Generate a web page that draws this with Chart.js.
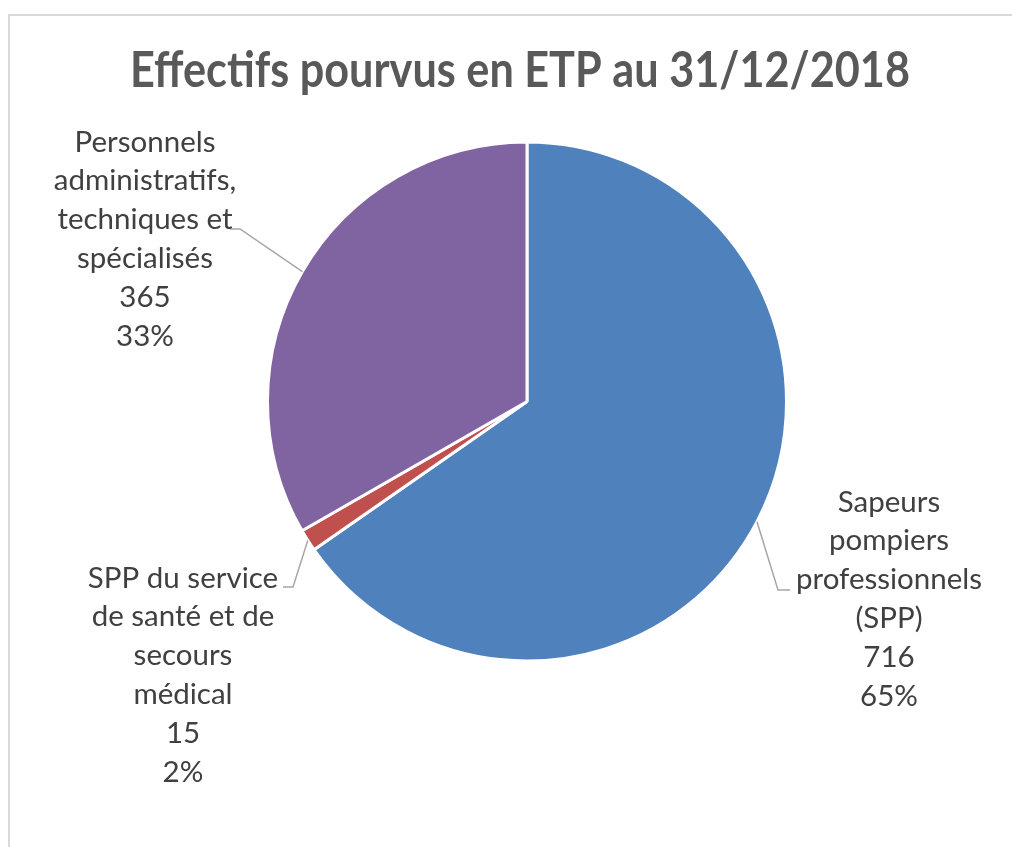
<!DOCTYPE html>
<html>
<head>
<meta charset="utf-8">
<script src="https://cdn.jsdelivr.net/npm/chart.js@4.4.1/dist/chart.umd.min.js"></script>
<style>
    html, body { margin: 0; padding: 0; background: #ffffff; overflow: hidden; }
    #wrap { position: relative; width: 1012px; height: 847px; }
    #frame {
        position: absolute; left: 8px; top: 14px; width: 1100px; height: 900px;
        border: 2px solid #d9d9d9; box-sizing: border-box; pointer-events: none;
    }
    canvas { position: absolute; left: 0; top: 0; }
</style>
</head>
<body>
<div id="wrap">
    <div id="frame"></div>
    <canvas id="pieChart" width="1012" height="847"></canvas>
</div>
<script>
const chartTitle = "Effectifs pourvus en ETP au 31/12/2018";

// Slices, clockwise from 12 o'clock
const categories = [
    "Sapeurs pompiers professionnels (SPP)",
    "SPP du service de santé et de secours médical",
    "Personnels administratifs, techniques et spécialisés"
];
const categoryLines = [
    ["Sapeurs", "pompiers", "professionnels", "(SPP)"],
    ["SPP du service", "de santé et de", "secours", "médical"],
    ["Personnels", "administratifs,", "techniques et", "spécialisés"]
];
const values = [716, 15, 365];
const percents = ["65%", "2%", "33%"];
const sliceColors = ["#4F81BD", "#C0504D", "#8064A2"];

// Where each data label sits and how its leader line bends (layout only)
const labelLayout = [
    { cx: 889, top: 502, elbow: [778, 590], end: [790, 590] },
    { cx: 183, top: 578, elbow: [293, 587], end: [283, 587] },
    { cx: 145, top: 142, elbow: [240, 229], end: [230, 229] }
];

/* -------------------------------
   Title (drawn by hand so it is not squeezed to the pie width)
---------------------------------*/
const bigTitle = {
    id: "bigTitle",
    afterDraw(chart) {
        const ctx = chart.ctx;
        ctx.save();
        ctx.fillStyle = "#595959";
        ctx.font = "bold 50px Lato";
        ctx.textAlign = "center";
        ctx.textBaseline = "alphabetic";
        // narrow the face a little, the original title font is condensed
        const w = ctx.measureText(chartTitle).width;
        const sx = Math.min(1, 780 / w);
        ctx.translate(520, 87);
        ctx.scale(sx, 1);
        ctx.fillText(chartTitle, 0, 0);
        ctx.restore();
    }
};

/* -------------------------------
   Data labels with leader lines
---------------------------------*/
const pieLabels = {
    id: "pieLabels",
    afterDatasetsDraw(chart) {
        const ctx = chart.ctx;
        const meta = chart.getDatasetMeta(0);

        meta.data.forEach((arc, i) => {
            const p = arc.getProps(["x", "y", "startAngle", "endAngle", "outerRadius"], true);
            const mid = (p.startAngle + p.endAngle) / 2;
            const ex = p.x + Math.cos(mid) * p.outerRadius;
            const ey = p.y + Math.sin(mid) * p.outerRadius;
            const lay = labelLayout[i];

            ctx.save();
            ctx.strokeStyle = "#a6a6a6";
            ctx.lineWidth = 1.5;
            ctx.beginPath();
            ctx.moveTo(ex, ey);
            ctx.lineTo(lay.elbow[0], lay.elbow[1]);
            ctx.lineTo(lay.end[0], lay.end[1]);
            ctx.stroke();

            const lines = categoryLines[i].concat([String(values[i]), percents[i]]);
            ctx.fillStyle = "#404040";
            ctx.font = "29.5px Lato";
            ctx.textAlign = "center";
            ctx.textBaseline = "middle";
            lines.forEach((t, k) => ctx.fillText(t, lay.cx, lay.top + k * 38.9));
            ctx.restore();
        });
    }
};

new Chart(document.getElementById("pieChart").getContext("2d"), {
    type: "pie",
    data: {
        labels: categories,
        datasets: [{
            data: values,
            backgroundColor: sliceColors,
            borderColor: "#ffffff",
            borderWidth: 3
        }]
    },
    options: {
        responsive: false,
        animation: false,
        layout: { padding: { left: 266, right: 224, top: 140, bottom: 184 } },
        plugins: {
            legend: { display: false },
            tooltip: { enabled: false },
            title: { display: false }
        }
    },
    plugins: [pieLabels, bigTitle]
});
</script>
</body>
</html>
